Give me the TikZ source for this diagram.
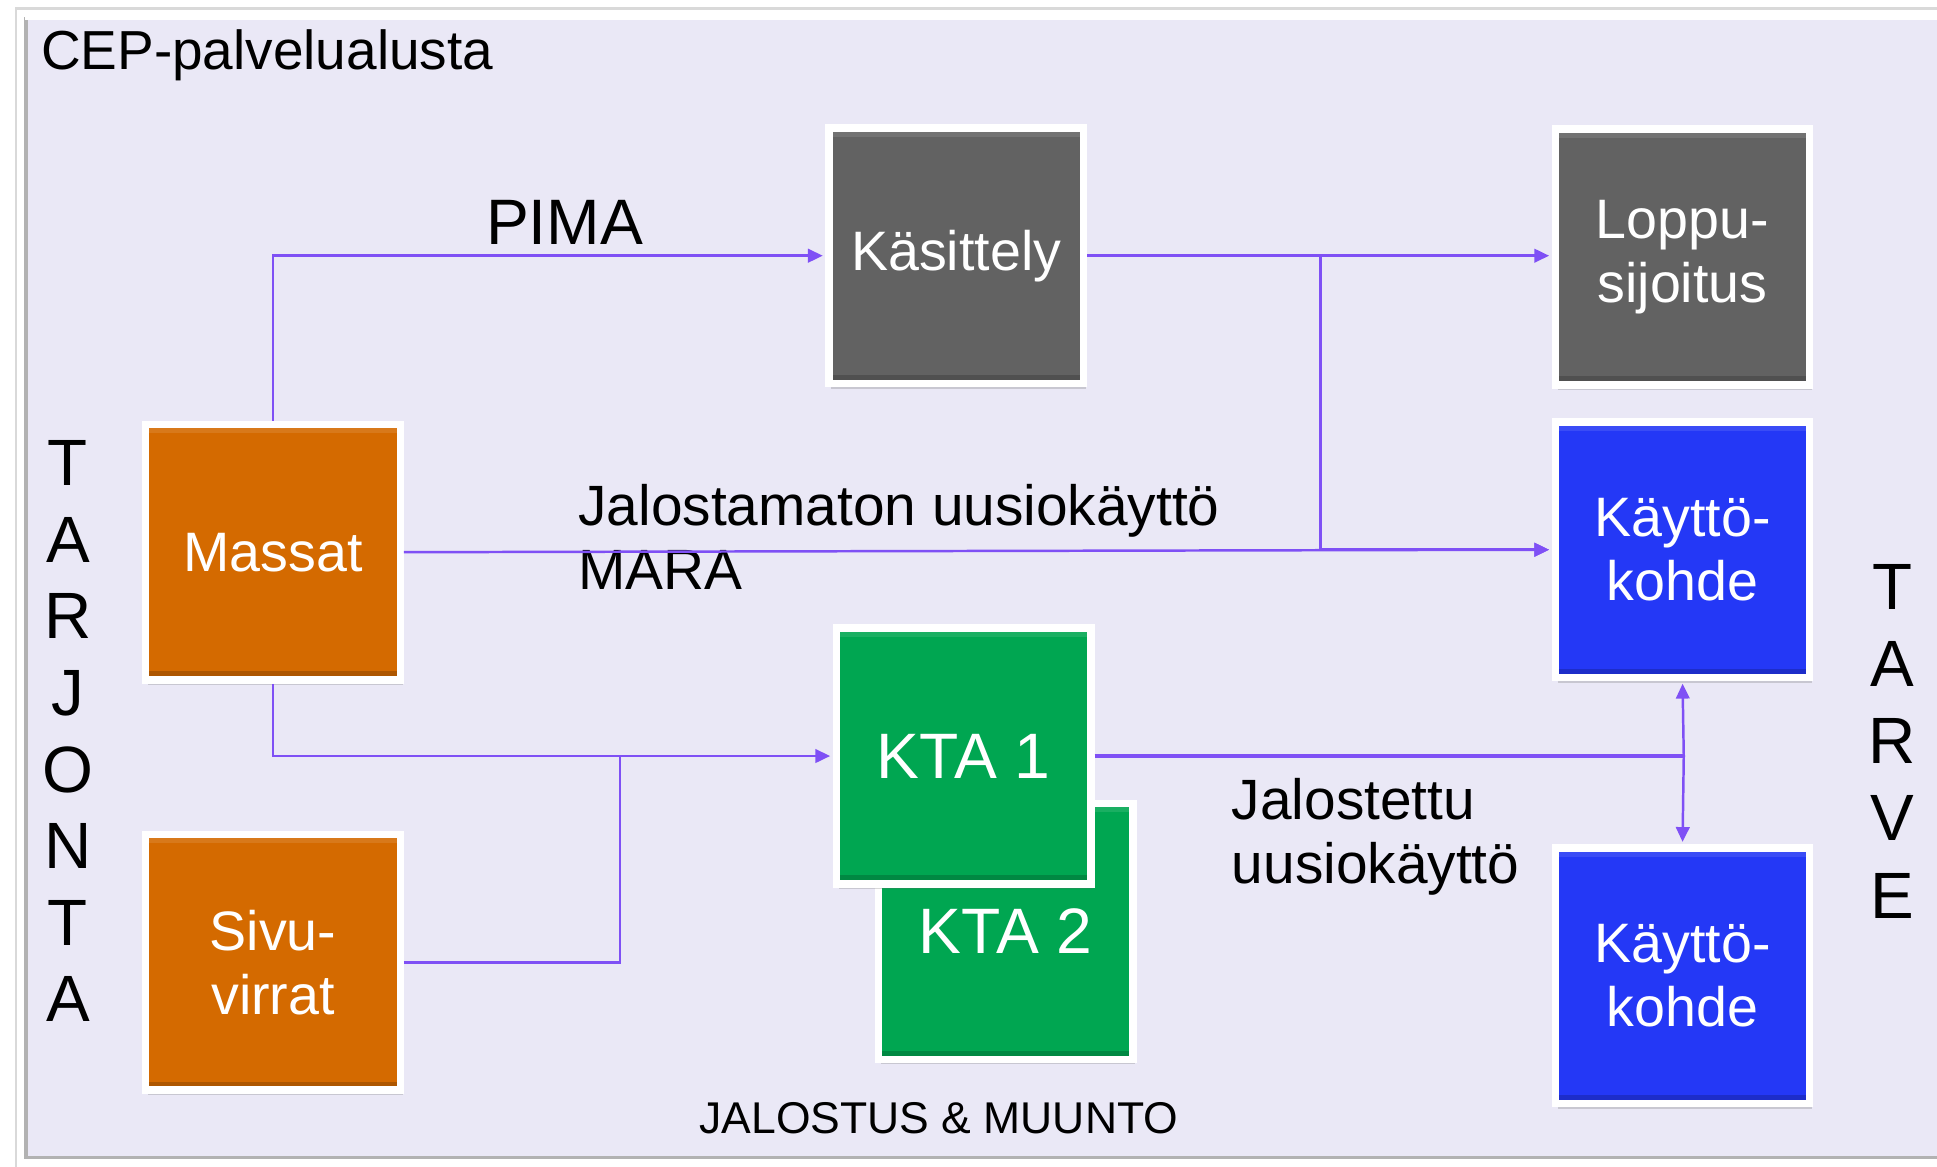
\documentclass[tikz,border=0pt]{standalone}
\usepackage{fontspec}
\setmainfont{Liberation Sans}
\usetikzlibrary{arrows.meta,shadows}
\definecolor{bgpanel}{HTML}{EAE8F6}
\definecolor{boxgray}{HTML}{626262}
\definecolor{boxblue}{HTML}{2438F6}
\definecolor{boxorange}{HTML}{D46A00}
\definecolor{boxgreen}{HTML}{00A651}
\definecolor{flow}{HTML}{7F50F5}
\tikzset{
  box/.style={rectangle, minimum width=206pt, minimum height=207pt, draw=white,
    line width=6pt, text=white, align=center, inner sep=0pt,
    font=\fontsize{45}{52}\selectfont,
    drop shadow={shadow xshift=2pt, shadow yshift=-4pt, opacity=0.25, fill=black!60},
    path picture={
      \fill[black, opacity=0.18] (path picture bounding box.south west) rectangle ([yshift=7pt]path picture bounding box.south east);
      \fill[white, opacity=0.10] (path picture bounding box.north west) rectangle ([yshift=-7pt]path picture bounding box.north east);
    }},
  graybox/.style={box, fill=boxgray},
  bluebox/.style={box, fill=boxblue},
  orangebox/.style={box, fill=boxorange},
  greenbox/.style={box, fill=boxgreen, font=\fontsize{52}{58}\selectfont},
  flowline/.style={draw=flow, line width=2pt},
  arr/.style={flowline, -{Triangle[length=12pt,width=11pt]}, shorten >=2pt},
  lbl/.style={text=black, inner sep=0pt, align=left, font=\fontsize{46}{52}\selectfont},
  letter/.style={text=black, inner sep=0pt, font=\fontsize{53}{62}\selectfont},
}
\begin{document}
\begin{tikzpicture}[x=1pt, y=-1pt]
\useasboundingbox (0,0) rectangle (1568,944);
% panel
\fill[white] (0,0) rectangle (1568,944);
\draw[black!15, line width=2pt] (13,7) rectangle (1600,950);
\fill[white] (14,8) rectangle (1600,944);
\fill[bgpanel] (20,14) rectangle (1600,938);
\draw[black!30, line width=3pt] (21,14) -- (21,937) -- (1600,937);
\draw[white, line width=2pt] (20,15) -- (1600,15);

\node[lbl, anchor=west] (title) at (33,45) {\fontsize{44.5}{50}\selectfont CEP-palvelualusta};

% boxes
\node[greenbox] (kta2) at (814,754) {KTA 2};
\node[greenbox] (kta1) at (780,612) {KTA 1};
\node[graybox] (kas) at (774,207) {Käsittely};
\node[graybox] (lop) at (1362,208) {Loppu-\\sijoitus};
\node[bluebox] (kk1) at (1362,445) {Käyttö-\\kohde};
\node[bluebox] (kk2) at (1362,790) {Käyttö-\\kohde};
\node[orangebox] (mas) at (221,447) {Massat};
\node[orangebox] (siv) at (221,779) {Sivu-\\virrat};

% labels
\node[lbl, anchor=center] (pima) at (457,180) {\fontsize{52}{60}\selectfont PIMA};
\node[lbl, anchor=north west] (jal) at (468,392) {Jalostamaton uusiokäyttö\\MARA};
\node[lbl, anchor=north west] (jst) at (997,630) {Jalostettu\\uusiokäyttö};
\node[lbl, anchor=center] (muunto) at (760,905) {\fontsize{36}{42}\selectfont JALOSTUS \& MUUNTO};

\foreach \ch [count=\i from 0] in {T,A,R,J,O,N,T,A}
  \node[letter] (tarj\i) at (55,375+62*\i) {\ch};
\foreach \ch [count=\i from 0] in {T,A,R,V,E}
  \node[letter] (tarv\i) at (1532,475+62.5*\i) {\ch};

% connectors
\coordinate (br) at (1069,207);
\coordinate (jn) at (502,612);
\coordinate (split) at (1363,612);
\draw[arr] (mas.north) |- (kas.west);
\draw[arr] (kas.east) -- (kas.east -| lop.west);
\draw[arr] (br) |- (kk1.west);
\draw[arr] (mas.east) -- (kk1.west);
\draw[arr] (mas.south) |- (kta1.west);
\draw[flowline] (siv.east) -| (jn);
\draw[flowline, line width=3pt] (kta1.east) -- (split);
\draw[arr] (split) -- (kk1.south);
\draw[arr] (split) -- (kk2.north);
\end{tikzpicture}
\end{document}
